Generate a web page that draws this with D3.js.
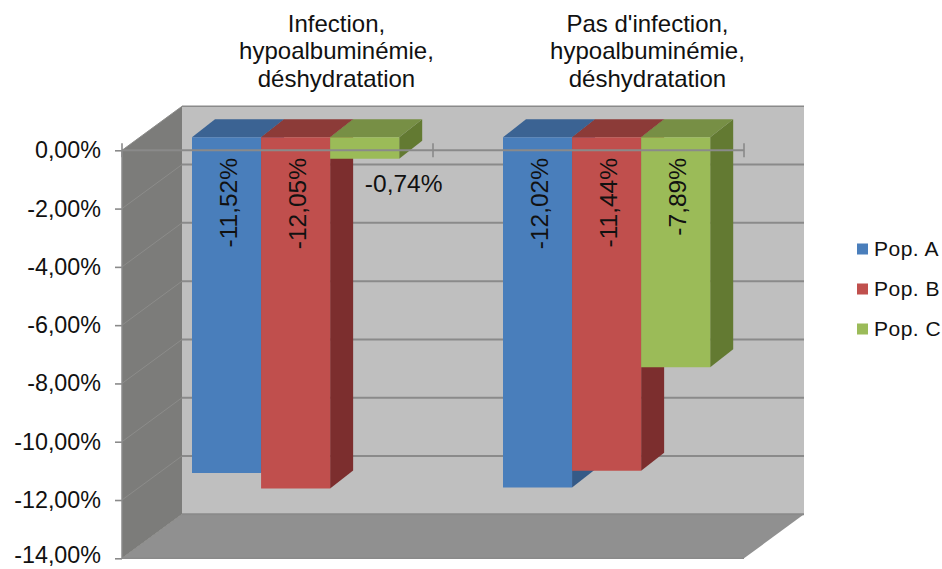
<!DOCTYPE html>
<html><head><meta charset="utf-8">
<script src="https://cdn.jsdelivr.net/npm/d3@7"></script>
<style>html,body{margin:0;padding:0;background:#fff}svg{display:block}text{font-family:"Liberation Sans",Arial,sans-serif;fill:#111}</style>
</head><body><svg id="c" width="942" height="569"></svg>
<script>
const categories = ["Infection", "Pas d'infection"];
const categoryLabels = [
  ["Infection,", "hypoalbuminémie,", "déshydratation"],
  ["Pas d'infection,", "hypoalbuminémie,", "déshydratation"]
];
const seriesNames = ["Pop. A", "Pop. B", "Pop. C"];
const popA = [-11.52, -12.02];
const popB = [-12.05, -11.44];
const popC = [-0.74, -7.89];
const seriesValues = [popA, popB, popC];
const tickValues = [0, -2, -4, -6, -8, -10, -12, -14];
const faceColors = ["#4a7ebb", "#c0504d", "#9bbb59"];
const topColors = ["#3a6393", "#8c3a38", "#778f45"];
const sideColors = ["#355a87", "#7c2e2d", "#637a32"];

const svg = d3.select("#c");
const defs = svg.append("defs");
const sc = defs.append("filter").attr("id","soft").attr("x","-5%").attr("y","-5%").attr("width","110%").attr("height","110%");
sc.append("feGaussianBlur").attr("stdDeviation",0.45);

const y = d3.scaleLinear().domain([0,-14]).range([150.3,558.3]);
const x0 = d3.scaleBand().domain(categories).range([122,744]);
const x1 = d3.scaleBand().domain(seriesNames).range([0,207.2]);
const wallDX = 60, wallDY = 44, barDX = 23, barDY = 18, barFrontDY = 13, barShift = 18.1;
const fr = d3.format(".2f");
const pct = v => fr(v).replace(".", ",").replace("−","-") + "%";
const poly = (p, f) => plot.append("polygon").attr("points", p.map(q=>q.join(",")).join(" ")).attr("fill", f);

const plot = svg.append("g").attr("filter","url(#soft)");
const xR = x0.range()[1], xL = x0.range()[0];
const y0 = y(0), yB = y(-14);
// back wall, left wall, floor
poly([[xL+wallDX,y0-wallDY],[xR+wallDX,y0-wallDY],[xR+wallDX,yB-wallDY],[xL+wallDX,yB-wallDY]],"#bfbfbf");
poly([[xL,y0],[xL+wallDX,y0-wallDY],[xL+wallDX,yB-wallDY],[xL,yB]],"#7c7c7a");
poly([[xL,yB],[xL+wallDX,yB-wallDY],[xR+wallDX,yB-wallDY],[xR,yB]],"#909090");
// gridlines
tickValues.forEach(t=>{
  plot.append("line").attr("x1",xL+wallDX).attr("x2",xR+wallDX).attr("y1",y(t)-wallDY).attr("y2",y(t)-wallDY)
    .attr("stroke","#8a8a8a").attr("stroke-width",t===0?1.6:2);
  plot.append("line").attr("x1",xL).attr("x2",xL+wallDX).attr("y1",y(t)).attr("y2",y(t)-wallDY)
    .attr("stroke","#8c8c8a").attr("stroke-width",1);
});
plot.append("line").attr("x1",xL).attr("x2",xR).attr("y1",yB).attr("y2",yB).attr("stroke","#8a8a8a").attr("stroke-width",1.5);
plot.append("line").attr("x1",xL).attr("x2",xL).attr("y1",y0).attr("y2",yB).attr("stroke","#8a8a8a").attr("stroke-width",1.5);
// bars
const w = x1.bandwidth();
const barLeft = (c,s) => x0(c)+x0.bandwidth()/2+barShift-x1.range()[1]/2+x1(s);
categories.forEach((c,i)=>{
  seriesNames.forEach((s,k)=>{
    const v = seriesValues[k][i];
    const l = barLeft(c,s), r = l+w;
    const t = y(0)-barFrontDY, b = y(v)-barFrontDY;
    poly([[r,t],[r+barDX,t-barDY],[r+barDX,b-barDY],[r,b]], sideColors[k]);
    poly([[l,t],[l+barDX,t-barDY],[r+barDX,t-barDY],[r,t]], topColors[k]);
    poly([[l,t],[r,t],[r,b],[l,b]], faceColors[k]);
  });
});
// horizontal axis at zero, over the bars
plot.append("line").attr("x1",xL).attr("x2",xR).attr("y1",y0).attr("y2",y0).attr("stroke","#8a8a8a").attr("stroke-width",2);
[xL, x0(categories[1]), xR].forEach(xx=>{
  plot.append("line").attr("x1",xx).attr("x2",xx).attr("y1",y0-7).attr("y2",y0+7).attr("stroke","#8a8a8a").attr("stroke-width",1.6);
});
// y axis
const ax = svg.append("g").attr("transform",`translate(${xL},0)`)
  .call(d3.axisLeft(y).tickValues(tickValues).tickSize(7).tickPadding(14).tickFormat(pct));
ax.select(".domain").remove();
ax.selectAll("line").attr("stroke","#8a8a8a").attr("stroke-width",1.6);
ax.selectAll("text").attr("font-size",23.3).attr("dy",d=>d===-14?"0.2em":"0.32em").style("font-family",'"Liberation Sans",Arial,sans-serif');
// category labels
categories.forEach((c,i)=>{
  const cx = x0(c)+x0.bandwidth()/2+59;
  categoryLabels[i].forEach((line,j)=>{
    svg.append("text").attr("x",cx).attr("y",31.5+j*27.5).attr("text-anchor","middle").attr("font-size",24).text(line);
  });
});
// data labels
categories.forEach((c,i)=>{
  seriesNames.forEach((s,k)=>{
    const v = seriesValues[k][i];
    const cx = barLeft(c,s)+w/2;
    if (v > -1) {
      svg.append("text").attr("x",cx+39).attr("y",192).attr("text-anchor","middle").attr("font-size",24.5).text(pct(v));
    } else {
      svg.append("text").attr("transform",`translate(${cx+10},158) rotate(-90)`).attr("text-anchor","end").attr("font-size",24.5).text(pct(v));
    }
  });
});
// legend
seriesNames.forEach((s,k)=>{
  const ly = 249+k*40;
  svg.append("rect").attr("x",857).attr("y",ly-5.5).attr("width",11).attr("height",11).attr("fill",faceColors[k]);
  svg.append("text").attr("x",874).attr("y",ly+6.5).attr("font-size",21).attr("letter-spacing",0.5).text(s);
});
</script></body></html>
